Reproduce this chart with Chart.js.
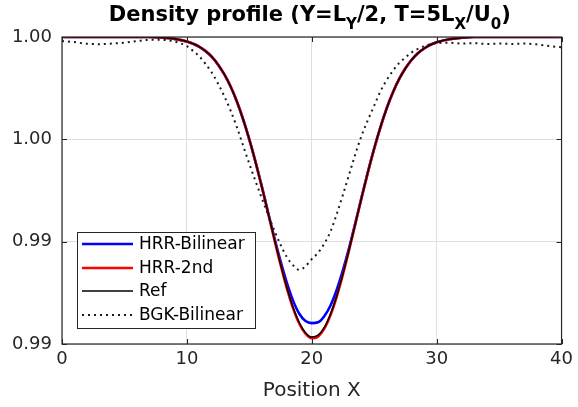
<!DOCTYPE html>
<html><head><meta charset="utf-8">
<script src="https://cdn.jsdelivr.net/npm/chart.js@4.4.0/dist/chart.umd.min.js"></script>
<style>html,body{margin:0;padding:0;background:#fff;} #wrap{position:relative;width:578px;height:407px;}</style>
</head><body><div id="wrap"><canvas id="c" width="578" height="407"></canvas></div>
<script>
// ---- data ----
const positionX = [0,1,2,3,4,5,6,7,8,9,
  10,10.5,11,11.5,12,12.5,13,13.5,14,14.5,15,15.5,16,16.5,17,17.5,18,18.5,19,19.5,
  20,20.5,21,21.5,22,22.5,23,23.5,24,24.5,25,25.5,26,26.5,27,27.5,28,28.5,29,29.5,30,
  31,32,33,34,35,36,37,38,39,40];
const refDensity = [1,1,1,1,1,1,1,1,0.99997,0.99991,
  0.99978,0.99967,0.99952,0.99931,0.99903,0.99865,0.99817,0.99758,0.99685,0.99598,0.99499,0.99388,0.99268,0.99141,0.99014,0.98890,0.98777,0.98680,0.98605,0.98555,
  0.98534,0.98543,0.98581,0.98647,0.98736,0.98844,0.98964,0.99090,0.99218,0.99341,0.99456,0.99560,0.99652,0.99730,0.99795,0.99847,0.99889,0.99921,0.99944,0.99962,0.99974,
  0.99989,0.99996,1,1,1,1,1,1,1,1];
const hrr2ndDensity = [1,1,1,1,1,1,1,1,0.99997,0.99991,
  0.99978,0.99967,0.99952,0.99931,0.99903,0.99865,0.99817,0.99758,0.99686,0.99599,0.99500,0.99389,0.99268,0.99140,0.99012,0.98887,0.98773,0.98675,0.98599,0.98550,
  0.98528,0.98536,0.98575,0.98642,0.98732,0.98841,0.98962,0.99089,0.99217,0.99340,0.99455,0.99559,0.99651,0.99729,0.99795,0.99847,0.99889,0.99921,0.99944,0.99962,0.99974,
  0.99989,0.99996,1,1,1,1,1,1,1,1];
const hrrBilinearDensity = [1,1,1,1,1,1,1,1,0.99997,0.99991,
  0.99978,0.99967,0.99952,0.99931,0.99903,0.99865,0.99817,0.99758,0.99685,0.99598,0.99499,0.99389,0.99270,0.99144,0.99020,0.98905,0.98800,0.98712,0.98648,0.98612,
  0.98602,0.98606,0.98636,0.98688,0.98765,0.98862,0.98972,0.99094,0.99220,0.99342,0.99456,0.99560,0.99652,0.99730,0.99795,0.99847,0.99889,0.99921,0.99944,0.99962,0.99974,
  0.99989,0.99996,1,1,1,1,1,1,1,1];
const bgkBilinearDensity = [0.99980,0.99975,0.99967,0.99965,0.99968,0.99972,0.99980,0.99986,0.99986,0.99978,
  0.99955,0.99932,0.99905,0.99868,0.99825,0.99772,0.99710,0.99640,0.99560,0.99470,0.99380,0.99295,0.99212,0.99132,0.99055,0.98985,0.98925,0.98885,0.98862,0.98880,
  0.98915,0.98945,0.98990,0.99050,0.99135,0.99230,0.99330,0.99430,0.99520,0.99595,0.99665,0.99735,0.99790,0.99835,0.99873,0.99900,0.99925,0.99942,0.99955,0.99965,0.99970,
  0.99972,0.99968,0.99970,0.99966,0.99968,0.99966,0.99968,0.99964,0.99956,0.99950];
const seriesNames = ["HRR-Bilinear","HRR-2nd","Ref","BGK-Bilinear"];
const xTickValues = [0,10,20,30,40];
const yTickValues = [0.985,0.99,0.995,1.0];
const yTickLabels = ["0.99","0.99","1.00","1.00"];
const xAxisTitle = "Position X";
const titleParts = [["Density profile (Y=L",false],["Y",true],["/2, T=5L",false],["X",true],["/U",false],["0",true],[")",false]];

// ---- chart ----
const FONT = "'DejaVu Sans', sans-serif";
const AXIS = "#262626";
function pts(ys){ return positionX.map((x,i)=>({x:x,y:ys[i]})); }

const framePlugin = {
  id:'frame',
  afterDatasetsDraw(chart){
    const {ctx, chartArea:a, scales} = chart;
    ctx.save();
    ctx.strokeStyle = AXIS; ctx.lineWidth = 1.2;
    ctx.strokeRect(a.left, a.top, a.right-a.left, a.bottom-a.top);
    const tl = 5;
    ctx.beginPath();
    xTickValues.forEach(v=>{ const px = Math.round(scales.x.getPixelForValue(v))+0.5;
      ctx.moveTo(px,a.bottom); ctx.lineTo(px,a.bottom-tl);
      ctx.moveTo(px,a.top); ctx.lineTo(px,a.top+tl); });
    yTickValues.forEach(v=>{ const py = Math.round(scales.y.getPixelForValue(v))+0.5;
      ctx.moveTo(a.left,py); ctx.lineTo(a.left+tl,py);
      ctx.moveTo(a.right,py); ctx.lineTo(a.right-tl,py); });
    ctx.lineWidth = 1; ctx.stroke();
    ctx.restore();
  },
  afterDraw(chart){
    const {ctx, chartArea:a} = chart;
    ctx.save();
    // title with subscripts
    const big = "bold 21px " + FONT, small = "bold 15px " + FONT;
    let total = 0;
    titleParts.forEach(([t,sub])=>{ ctx.font = sub?small:big; total += ctx.measureText(t).width; });
    let x = (a.left+a.right)/2 - total/2 - 2;
    ctx.fillStyle = "#000"; ctx.textBaseline = "alphabetic"; ctx.textAlign = "left";
    titleParts.forEach(([t,sub])=>{ ctx.font = sub?small:big; ctx.fillText(t, x, sub?29:21); x += ctx.measureText(t).width; });
    // legend
    const bx = 77, by = 232, bw = 178, bh = 96;
    ctx.fillStyle = "#fff"; ctx.fillRect(bx,by,bw,bh);
    ctx.strokeStyle = AXIS; ctx.lineWidth = 1; ctx.strokeRect(bx+0.5,by+0.5,bw,bh);
    const rows = [244, 268, 291, 315];
    ctx.font = "17px " + FONT; ctx.textBaseline = "middle";
    chart.data.datasets.forEach((ds,i)=>{
      const y = rows[i];
      ctx.beginPath(); ctx.strokeStyle = ds.borderColor; ctx.lineWidth = ds.borderWidth;
      ctx.setLineDash(ds.borderDash || []);
      ctx.moveTo(82,y); ctx.lineTo(133,y); ctx.stroke(); ctx.setLineDash([]);
      ctx.fillStyle = "#000"; ctx.fillText(ds.label, 139, y+1);
    });
    ctx.restore();
  }
};

new Chart(document.getElementById('c'), {
  type:'line',
  data:{ datasets:[
    {label:seriesNames[0], data:pts(hrrBilinearDensity), borderColor:'#0000ff', borderWidth:2.6, order:4},
    {label:seriesNames[1], data:pts(hrr2ndDensity), borderColor:'#ff0000', borderWidth:2.6, order:3},
    {label:seriesNames[2], data:pts(refDensity), borderColor:'#000000', borderWidth:1.5, order:2},
    {label:seriesNames[3], data:pts(bgkBilinearDensity), borderColor:'#1a1a1a', borderWidth:2, borderDash:[2,4], order:1}
  ]},
  options:{
    responsive:false, devicePixelRatio:1, animation:false,
    elements:{ point:{radius:0}, line:{tension:0.4, cubicInterpolationMode:'monotone', fill:false} },
    layout:{ padding:{top:37, right:14, left:0, bottom:0} },
    plugins:{ legend:{display:false}, title:{display:false}, tooltip:{enabled:false} },
    scales:{
      x:{ type:'linear', min:0, max:40,
        afterBuildTicks(s){ s.ticks = xTickValues.map(v=>({value:v})); },
        afterFit(s){ s.height = 63; },
        grid:{ color:'#dedede', lineWidth:1, drawTicks:false },
        border:{ display:false },
        ticks:{ padding:5, color:AXIS, font:{family:FONT, size:18}, maxRotation:0 },
        title:{ display:true, text:xAxisTitle, color:AXIS, font:{family:FONT, size:20}, padding:{top:0,bottom:4} }
      },
      y:{ type:'linear', min:0.985, max:1.0,
        afterBuildTicks(s){ s.ticks = yTickValues.map(v=>({value:v})); },
        afterFit(s){ s.width = 62; },
        grid:{ color:'#dedede', lineWidth:1, drawTicks:false },
        border:{ display:false },
        ticks:{ padding:10, color:AXIS, font:{family:FONT, size:18},
          callback(v){ const i = yTickValues.findIndex(t=>Math.abs(t-v)<1e-9); return i>=0 ? yTickLabels[i] : ''; } }
      }
    }
  },
  plugins:[framePlugin]
});
</script></body></html>
